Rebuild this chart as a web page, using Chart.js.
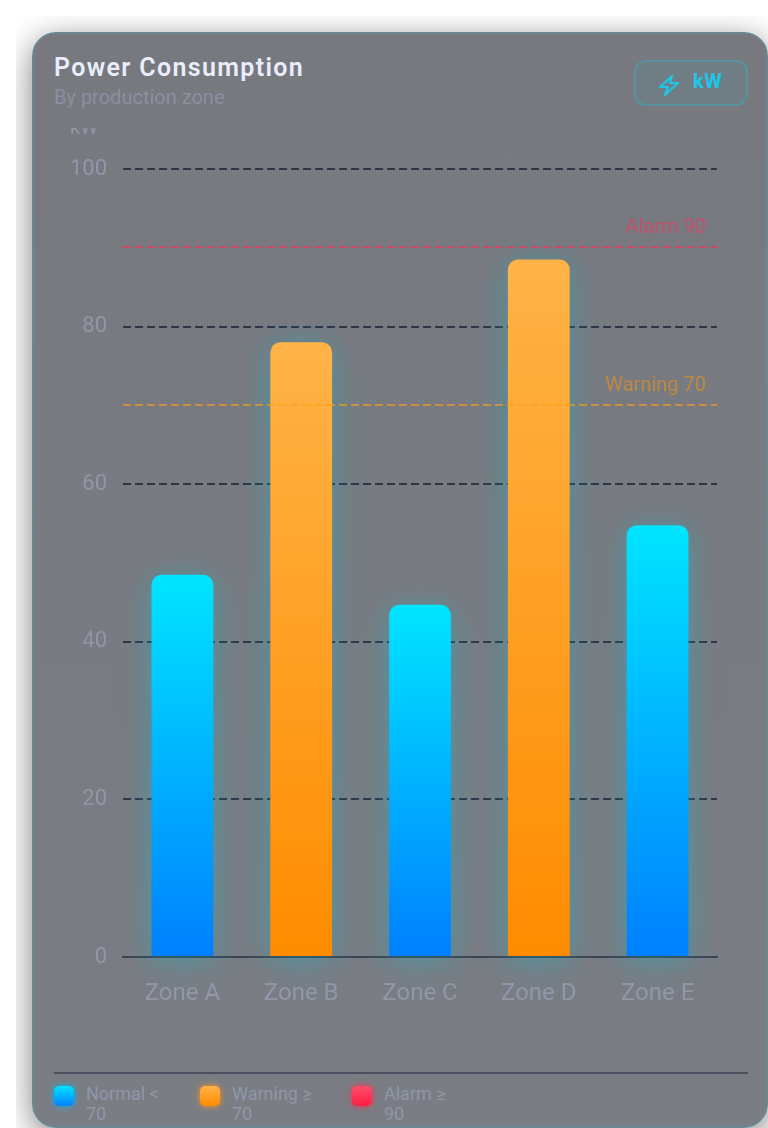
<!DOCTYPE html>
<html>
<head>
<meta charset="utf-8">
<title>Power Consumption</title>
<script src="https://cdn.jsdelivr.net/npm/chart.js@4/dist/chart.umd.min.js"></script>
<style>
    html, body { margin: 0; padding: 0; background: #fff; width: 768px; height: 1128px; overflow: hidden; }
    body { font-family: Roboto, sans-serif; }
    .fondo { position: absolute; left: 16px; top: 16px; width: 752px; height: 1112px; overflow: hidden; background: #fff; }
    .tarjeta {
        position: absolute; left: 16px; top: 16px; width: 736px; height: 1096px; box-sizing: border-box;
        border-radius: 24px; background: linear-gradient(180deg, #77797f 0%, #7a7d84 100%);
        border: 2px solid #6b8791; box-shadow: 0 8px 32px rgba(0, 0, 0, .5); overflow: hidden;
    }
    .brillo { position: absolute; left: 0; right: 0; top: -2px; height: 2px; background: linear-gradient(90deg, #6b8791 0%, #5fa6b5 50%, #6b8791 100%); }
    h1 { position: absolute; left: 20px; top: 18px; margin: 0; font-size: 25px; line-height: 32px; font-weight: 600; letter-spacing: 1.35px; color: #e8eefb; }
    .sub { position: absolute; left: 20px; top: 50px; font-size: 20px; line-height: 26px; color: #8a90a0; }
    .boton {
        position: absolute; left: 600px; top: 26px; width: 114px; height: 46px; box-sizing: border-box;
        border: 2px solid #55939f; border-radius: 12px; background: rgba(0, 200, 230, .06);
    }
    .boton svg { position: absolute; left: 21px; top: 11px; }
    .boton span { position: absolute; left: 57px; top: 6px; font-size: 20px; line-height: 26px; font-weight: 700; color: #1cc8e8; letter-spacing: .5px; }
    .caja { position: absolute; left: 20px; top: 94px; width: 694px; height: 932px; }
    .linea { position: absolute; left: 20px; top: 1038px; width: 694px; height: 2px; background: #4b505e; }
    .leyenda { position: absolute; left: 20px; top: 1050px; font-size: 18px; line-height: 20px; color: #9097a8; }
    .item { position: absolute; top: 0; }
    .item i { position: absolute; left: 0; top: 2px; width: 20px; height: 20px; border-radius: 5px; }
    .item span { position: absolute; left: 32px; top: 0; white-space: pre; }
</style>
</head>
<body>
<div class="fondo">
    <div class="tarjeta">
        <div class="brillo"></div>
        <h1>Power Consumption</h1>
        <div class="sub">By production zone</div>
        <div class="boton">
            <svg width="24" height="24" viewBox="0 0 24 24" fill="none" stroke="#1cc8e8" stroke-width="2.2" stroke-linejoin="round"><path d="M15 3 L3 14 H11 L8 22 L21 10 H13 Z"/></svg>
            <span>kW</span>
        </div>
        <div class="caja"><canvas id="graficoPotencia"></canvas></div>
        <div class="linea"></div>
        <div class="leyenda" id="leyenda"></div>
    </div>
</div>
<script>
const zonas = ['Zone A', 'Zone B', 'Zone C', 'Zone D', 'Zone E'];
const potencia = [48.5, 78, 44.7, 88.5, 54.8];
const ticksY = [0, 20, 40, 60, 80, 100];
const umbrales = [90, 70];
const umbralNombres = ['Alarm 90', 'Warning 70'];
const umbralColores = ['rgba(255, 45, 85, .6)', 'rgba(255, 160, 20, .6)'];
const umbralTextos = ['#c2506c', '#bd8a42'];
const leyendaTextos = ['Normal <\n70', 'Warning ≥\n70', 'Alarm ≥\n90'];
const leyendaPos = [0, 146, 298];
const leyendaFondos = ['linear-gradient(180deg,#00e5ff,#0080ff)', 'linear-gradient(180deg,#ffb347,#ff8c00)', 'linear-gradient(180deg,#ff4d6a,#ff1f45)'];
const leyendaBrillos = ['#00b4ff', '#ff9a1f', '#ff2d55'];

leyendaTextos.forEach((t, i) => {
    const item = document.createElement('div');
    item.className = 'item';
    item.style.left = leyendaPos[i] + 'px';
    item.innerHTML = `<i style="background:${leyendaFondos[i]};box-shadow:0 0 6px ${leyendaBrillos[i]}"></i><span></span>`;
    item.querySelector('span').textContent = t;
    document.getElementById('leyenda').appendChild(item);
});

// glow under the bars, teal for all of them
const brilloBarras = {
    id: 'brilloBarras',
    beforeDatasetDraw(chart) {
        const ctx = chart.ctx;
        ctx.save();
        ctx.shadowColor = 'rgba(0, 200, 220, .36)';
        ctx.shadowBlur = 32;
        ctx.shadowOffsetY = 4;
    },
    afterDatasetDraw(chart) {
        chart.ctx.restore();
    }
};

const lineasUmbral = {
    id: 'lineasUmbral',
    afterDatasetsDraw(chart) {
        const { ctx, chartArea, scales } = chart;
        ctx.save();
        umbrales.forEach((u, i) => {
            const y = Math.floor(scales.y.getPixelForValue(u));
            ctx.beginPath();
            ctx.setLineDash([8, 4]);
            ctx.lineWidth = 2;
            ctx.strokeStyle = umbralColores[i];
            ctx.moveTo(chartArea.left, y);
            ctx.lineTo(chartArea.right, y);
            ctx.stroke();
            ctx.font = '20px Roboto';
            ctx.fillStyle = umbralTextos[i];
            ctx.textAlign = 'right';
            ctx.textBaseline = 'alphabetic';
            ctx.fillText(umbralNombres[i], chartArea.right - 11, y - 14);
        });
        // axis unit, cut by the top of the canvas in the original
        ctx.font = '20px Roboto';
        ctx.fillStyle = '#9097a8';
        ctx.textAlign = 'left';
        ctx.fillText('kW', 16, 6);
        ctx.restore();
    }
};

function colorBarra(c) {
    const { chart, raw } = c;
    if (!chart.chartArea || raw === undefined) return '#00b4ff';
    const y = chart.scales.y;
    const g = chart.ctx.createLinearGradient(0, y.getPixelForValue(raw), 0, y.getPixelForValue(0));
    if (raw >= umbrales[1]) {
        g.addColorStop(0, '#ffb347');
        g.addColorStop(1, '#ff8c00');
    } else {
        g.addColorStop(0, '#00e5ff');
        g.addColorStop(1, '#0080ff');
    }
    return g;
}

new Chart(document.getElementById('graficoPotencia').getContext('2d'), {
    type: 'bar',
    data: {
        labels: zonas,
        datasets: [{
            data: potencia,
            backgroundColor: colorBarra,
            borderRadius: { topLeft: 10, topRight: 10, bottomLeft: 0, bottomRight: 0 },
            borderSkipped: false,
            barPercentage: 0.65,
            categoryPercentage: 0.8,
            clip: false
        }]
    },
    options: {
        responsive: true,
        maintainAspectRatio: false,
        animation: false,
        layout: { padding: { top: 41, right: 31, left: 0, bottom: 0 } },
        plugins: { legend: { display: false }, tooltip: { enabled: false } },
        scales: {
            x: {
                afterFit: s => { s.height = 103; },
                grid: { display: false },
                border: { color: '#3c4252', width: 2 },
                ticks: { color: '#9097a8', font: { family: 'Roboto', size: 24 }, padding: 15, maxRotation: 0 }
            },
            y: {
                min: 0,
                max: 100,
                afterFit: s => { s.width = 69; },
                afterBuildTicks: s => { s.ticks = ticksY.map(v => ({ value: v })); },
                grid: { color: '#2f3545', lineWidth: 2, drawTicks: false },
                border: { display: false, dash: [8, 4] },
                ticks: { color: '#9097a8', font: { family: 'Roboto', size: 22 }, padding: 16 }
            }
        }
    },
    plugins: [brilloBarras, lineasUmbral]
});
</script>
</body>
</html>
